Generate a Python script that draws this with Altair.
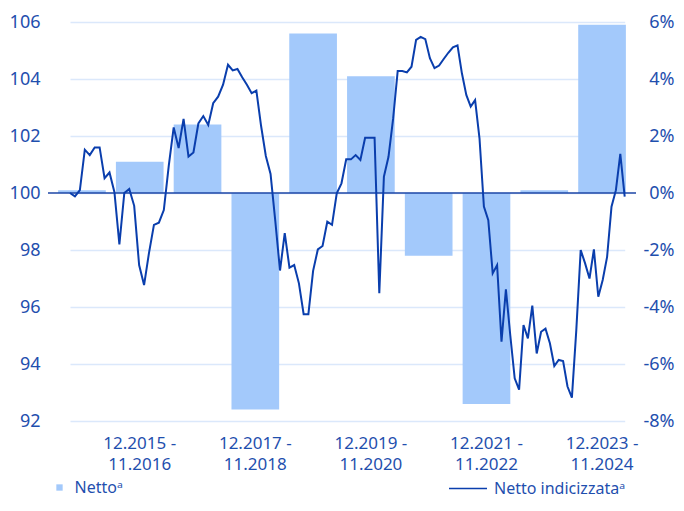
import altair as alt
import pandas as pd

# ---- data -------------------------------------------------------------
periods = [
    "12.2014 - 11.2015", "12.2015 - 11.2016", "12.2016 - 11.2017",
    "12.2017 - 11.2018", "12.2018 - 11.2019", "12.2019 - 11.2020",
    "12.2020 - 11.2021", "12.2021 - 11.2022", "12.2022 - 11.2023",
    "12.2023 - 11.2024",
]
netto = [0.1, 1.1, 2.4, -7.6, 5.6, 4.1, -2.2, -7.4, 0.1, 5.9]
tick_periods = periods[1::2]

index_values = [
    100.0, 99.88, 100.1, 101.52, 101.33, 101.6, 101.6, 100.52, 100.72, 100.03,
    98.2, 100.0, 100.14, 99.55, 97.47, 96.77, 97.9, 98.88, 98.96, 99.4,
    100.95, 102.3, 101.58, 102.6, 101.28, 101.42, 102.44, 102.7, 102.39, 103.15,
    103.38, 103.8, 104.5, 104.3, 104.35, 104.06, 103.8, 103.5, 103.59, 102.35,
    101.3, 100.67, 99.02, 97.28, 98.59, 97.38, 97.47, 96.83, 95.75, 95.75,
    97.27, 98.02, 98.14, 98.99, 98.88, 99.99, 100.34, 101.18, 101.18, 101.33,
    101.16, 101.94, 101.94, 101.94, 96.48, 100.57, 101.27, 102.6, 104.28, 104.28,
    104.23, 104.43, 105.37, 105.48, 105.4, 104.73, 104.38, 104.47, 104.7, 104.92,
    105.11, 105.18, 104.2, 103.44, 103.03, 103.26, 101.92, 99.52, 99.05, 97.18,
    97.47, 94.78, 96.62, 95.0, 93.5, 93.1, 95.37, 94.9, 96.05, 94.37,
    95.13, 95.24, 94.73, 93.93, 94.14, 94.1, 93.21, 92.82, 95.19, 98.0,
    97.53, 97.0, 98.02, 96.36, 96.95, 97.76, 99.52, 100.1, 101.37, 99.87,
]
months = list(range(len(index_values)))

bar_label = "Nettoᵃ"
line_label = "Netto indicizzataᵃ"

bars_df = pd.DataFrame({"periodo": periods, "netto": netto, "serie": bar_label})
line_df = pd.DataFrame({"mese": months, "indice": index_values, "serie": line_label})
zero_df = pd.DataFrame({"zero": [0]})

# ---- style --------------------------------------------------------------
W, H = 588, 399
FONT = "Noto Sans"
LABEL = "#1f4fae"
BAR = "#a3c9fb"
LINE = "#0a3ead"
ZERO = "#1c46a6"
GRID = "#dbe8fb"

bars = alt.Chart(bars_df).mark_bar(color=BAR).encode(
    x=alt.X(
        "periodo:N", sort=periods,
        scale=alt.Scale(paddingInner=0.175, paddingOuter=0.175),
        axis=alt.Axis(
            values=tick_periods,
            labelExpr="[slice(datum.label, 0, 9), slice(datum.label, 10)]",
            labelAngle=0, labelPadding=14, labelLineHeight=21, labelFontSize=17,
            title=None, domain=False, ticks=False, grid=False,
        ),
    ),
    y=alt.Y(
        "netto:Q", stack=None,
        scale=alt.Scale(domain=[-8, 6], nice=False, zero=True),
        axis=alt.Axis(
            orient="right", values=list(range(-8, 7, 2)),
            labelExpr="datum.value + '%'", labelAlign="right", labelPadding=38,
            grid=False, title=None, domain=False, ticks=False,
        ),
    ),
    color=alt.Color(
        "serie:N",
        scale=alt.Scale(domain=[bar_label], range=[BAR]),
        legend=alt.Legend(
            orient="none", legendX=3.5, legendY=457.5, title=None,
            symbolType="square", symbolSize=40, labelOffset=7, padding=0,
            labelFont=FONT, labelFontSize=16, labelColor=LABEL,
        ),
    ),
)

zero = alt.Chart(zero_df).mark_rule(color=ZERO, strokeWidth=1.5).encode(
    y=alt.Y("zero:Q", scale=alt.Scale(domain=[-8, 6], nice=False), axis=None)
)

line = alt.Chart(line_df).mark_line(strokeWidth=2, color=LINE).encode(
    x=alt.X(
        "mese:Q",
        scale=alt.Scale(domain=[0, 32, 64, 81, 119], range=[22, 180, 331.3, 409.5, 576.7]),
        axis=None,
    ),
    y=alt.Y(
        "indice:Q",
        scale=alt.Scale(domain=[92, 106], nice=False, zero=False),
        axis=alt.Axis(
            orient="left", values=list(range(92, 107, 2)), labelPadding=8,
            grid=True, gridColor=GRID, gridWidth=1.5,
            title=None, domain=False, ticks=False,
        ),
    ),
    stroke=alt.Stroke(
        "serie:N",
        scale=alt.Scale(domain=[line_label], range=[LINE]),
        legend=alt.Legend(
            orient="none", legendX=400, legendY=446.5, title=None,
            symbolType="stroke", symbolSize=1444, symbolStrokeWidth=1.5,
            labelOffset=6, padding=0,
            labelFont=FONT, labelFontSize=16, labelColor=LABEL,
        ),
    ),
)

chart = (
    alt.layer(bars, zero, line)
    .resolve_scale(y="independent", x="independent", color="independent", stroke="independent")
    .properties(
        width=W, height=H,
        autosize=alt.AutoSizeParams(type="none"),
        padding={"left": 40, "top": 14, "right": 40, "bottom": 76},
    )
    .configure_view(stroke=None)
    .configure_axis(labelFont=FONT, labelFontSize=18, labelColor=LABEL)
)

chart.save("out.html", embed_options={"renderer": "svg", "actions": False})
